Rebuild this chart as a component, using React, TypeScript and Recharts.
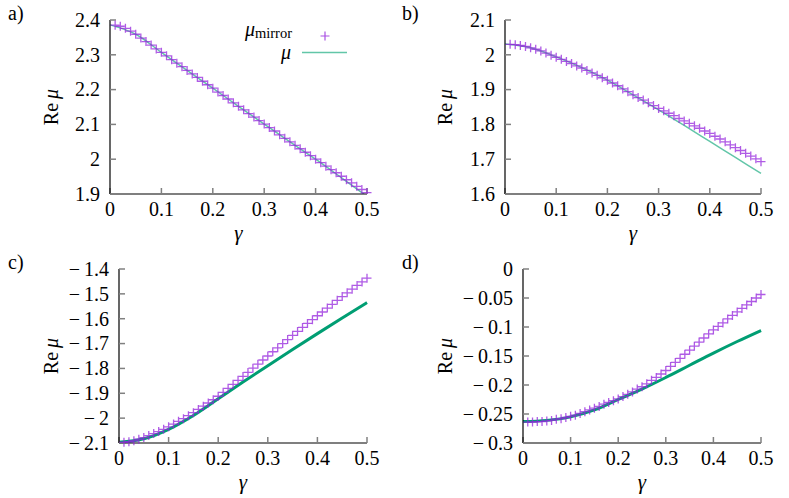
import { ComposedChart, Line, Scatter, XAxis, YAxis, Legend } from "recharts";

// gamma grid of the mirror points and of the mu curve
const gamma = [
  0.01, 0.02, 0.03, 0.04, 0.05, 0.06, 0.07, 0.08, 0.09, 0.1,
  0.11, 0.12, 0.13, 0.14, 0.15, 0.16, 0.17, 0.18, 0.19, 0.2,
  0.21, 0.22, 0.23, 0.24, 0.25, 0.26, 0.27, 0.28, 0.29, 0.3,
  0.31, 0.32, 0.33, 0.34, 0.35, 0.36, 0.37, 0.38, 0.39, 0.4,
  0.41, 0.42, 0.43, 0.44, 0.45, 0.46, 0.47, 0.48, 0.49, 0.5,
];
const gammaLine = [0, 0.05, 0.1, 0.15, 0.2, 0.25, 0.3, 0.35, 0.4, 0.45, 0.5];

// panel a
const mirrorA = [
  2.385, 2.382, 2.376, 2.368, 2.359, 2.348, 2.338, 2.328, 2.317, 2.307,
  2.297, 2.286, 2.276, 2.266, 2.255, 2.245, 2.235, 2.224, 2.214, 2.204,
  2.193, 2.183, 2.173, 2.162, 2.152, 2.142, 2.131, 2.121, 2.111, 2.101,
  2.091, 2.081, 2.07, 2.06, 2.05, 2.04, 2.03, 2.02, 2.01, 2.0,
  1.99, 1.98, 1.97, 1.961, 1.951, 1.941, 1.932, 1.922, 1.913, 1.904,
];
const muA = [2.386, 2.359, 2.307, 2.255, 2.204, 2.152, 2.101, 2.05, 2.0, 1.947, 1.893];

// panel b
const mirrorB = [
  2.03, 2.029, 2.027, 2.024, 2.02, 2.016, 2.011, 2.005, 1.999, 1.993,
  1.987, 1.981, 1.975, 1.968, 1.962, 1.955, 1.948, 1.941, 1.934, 1.927,
  1.919, 1.911, 1.902, 1.894, 1.885, 1.877, 1.87, 1.862, 1.854, 1.846,
  1.839, 1.832, 1.825, 1.817, 1.81, 1.803, 1.796, 1.789, 1.781, 1.774,
  1.766, 1.758, 1.75, 1.741, 1.733, 1.725, 1.717, 1.709, 1.701, 1.693,
];
const muB = [2.031, 2.02, 1.994, 1.963, 1.927, 1.885, 1.842, 1.797, 1.751, 1.705, 1.659];

// panel c
const mirrorC = [
  -2.097, -2.095, -2.091, -2.085, -2.078, -2.07, -2.062, -2.054, -2.045, -2.035,
  -2.024, -2.013, -2.002, -1.99, -1.978, -1.965, -1.952, -1.939, -1.926, -1.912,
  -1.896, -1.88, -1.864, -1.848, -1.832, -1.816, -1.799, -1.783, -1.766, -1.75,
  -1.733, -1.717, -1.7, -1.684, -1.667, -1.651, -1.635, -1.619, -1.604, -1.588,
  -1.573, -1.557, -1.542, -1.526, -1.511, -1.496, -1.481, -1.466, -1.452, -1.437,
];
const muC = [-2.097, -2.083, -2.045, -1.989, -1.922, -1.855, -1.789, -1.724, -1.66, -1.597, -1.535];

// panel d
const mirrorD = [
  -0.264, -0.264, -0.263, -0.263, -0.262, -0.261, -0.259, -0.258, -0.256, -0.254,
  -0.252, -0.249, -0.246, -0.243, -0.24, -0.237, -0.233, -0.23, -0.227, -0.224,
  -0.22, -0.216, -0.212, -0.207, -0.203, -0.198, -0.192, -0.187, -0.181, -0.175,
  -0.168, -0.161, -0.154, -0.147, -0.14, -0.133, -0.126, -0.119, -0.112, -0.105,
  -0.099, -0.093, -0.086, -0.08, -0.074, -0.068, -0.062, -0.056, -0.05, -0.044,
];
const muD = [-0.263, -0.261, -0.255, -0.243, -0.225, -0.207, -0.187, -0.166, -0.145, -0.125, -0.106];

const xTicks = [0, 0.1, 0.2, 0.3, 0.4, 0.5];
const yTicksA = [1.9, 2, 2.1, 2.2, 2.3, 2.4];
const yTicksB = [1.6, 1.7, 1.8, 1.9, 2, 2.1];
const yTicksC = [-2.1, -2, -1.9, -1.8, -1.7, -1.6, -1.5, -1.4];
const yTicksD = [-0.3, -0.25, -0.2, -0.15, -0.1, -0.05, 0];

const FONT = '"Liberation Serif", "Times New Roman", "DejaVu Serif", serif';
const PURPLE = "#9424dc";
const fmt = (v: number) => String(v).replace("-", "\u2212\u2009");
const labelFont = { fontFamily: FONT, fontSize: 20 };

const TickX = (props: any) => (
  <text x={props.x} y={props.y} dy="0.71em" textAnchor="middle" fill="#000" style={labelFont}>
    {fmt(props.payload.value)}
  </text>
);

const TickY = (props: any) => (
  <text x={props.x} y={props.y} dy="0.34em" textAnchor="end" fill="#000" style={labelFont}>
    {fmt(props.payload.value)}
  </text>
);

const Plus = (props: any) => {
  const { cx, cy } = props;
  if (cx == null || cy == null) return null;
  return (
    <path
      d={`M${cx - 4.5},${cy}H${cx + 4.5}M${cx},${cy - 4.5}V${cy + 4.5}`}
      stroke={PURPLE}
      strokeOpacity={0.75}
      strokeWidth={1.3}
      fill="none"
    />
  );
};

const XTitle = (props: any) => {
  const vb = props.viewBox;
  return (
    <text x={vb.x + vb.width / 2} y={vb.y + 46} textAnchor="middle" style={{ ...labelFont, fontSize: 21, fontStyle: "italic" }}>
      γ
    </text>
  );
};

const YTitle = (props: any) => {
  const vb = props.viewBox;
  const cy = vb.y + vb.height / 2;
  return (
    <text x={58} y={cy} transform={`rotate(-90, 58, ${cy})`} textAnchor="middle" style={labelFont}>
      Re{"\u2009"}
      <tspan fontStyle="italic">μ</tspan>
    </text>
  );
};

// legend block of panel a: both rows in one text element, right aligned
const LegendBox = () => (
  <svg width={160} height={56} style={{ display: "block" }}>
    <text textAnchor="end" style={labelFont}>
      <tspan x={92} y={22} fontStyle="italic">μ</tspan>
      <tspan fontSize={14.5} dy={1.5}>mirror</tspan>
      <tspan x={91} y={45} fontStyle="italic">μ</tspan>
    </text>
    <path d="M120.5,22H129.5M125,17.5V26.5" stroke={PURPLE} strokeOpacity={0.8} strokeWidth={1.2} fill="none" />
    <line x1={102} x2={147} y1={38.5} y2={38.5} stroke="#62c6a8" strokeWidth={1.5} />
  </svg>
);

interface PanelProps {
  tag: string;
  left: number;
  top: number;
  plotLeft: number;
  yTicks: number[];
  mirror: number[];
  mu: number[];
  lineColor: string;
  lineWidth: number;
  clip?: boolean;
  legend?: boolean;
}

function Panel({ tag, left, top, plotLeft, yTicks, mirror, mu, lineColor, lineWidth, clip, legend }: PanelProps) {
  const mirrorData = gamma.map((g, i) => ({ g, v: mirror[i] }));
  const lineData = gammaLine.map((g, i) => ({ g, v: mu[i] }));
  const yDomain = [yTicks[0], yTicks[yTicks.length - 1]];
  const border = { stroke: "#000", strokeWidth: 1.2 };
  const tickLine = { stroke: "#808080", strokeWidth: 1.5 };
  return (
    <div style={{ position: "absolute", left, top, width: 394, height: 249 }}>
      <span
        style={{ position: "absolute", left: 8, top: 3, fontFamily: FONT, fontSize: 20, lineHeight: "20px", zIndex: 2 }}
      >
        {tag}
      </span>
      <ComposedChart width={394} height={249} margin={{ top: 20, right: 27, bottom: 25, left: 0 }}>
        <XAxis
          type="number"
          dataKey="g"
          domain={[0, 0.5]}
          ticks={xTicks}
          interval={0}
          height={30}
          tickSize={-6}
          tickMargin={14}
          tick={TickX}
          axisLine={border}
          tickLine={tickLine}
          label={{ content: XTitle }}
        />
        <XAxis
          xAxisId="top"
          orientation="top"
          type="number"
          domain={[0, 0.5]}
          ticks={xTicks}
          interval={0}
          height={0}
          tickSize={-6}
          tick={false}
          axisLine={border}
          tickLine={tickLine}
        />
        <YAxis
          type="number"
          dataKey="v"
          domain={yDomain}
          ticks={yTicks}
          interval={0}
          allowDataOverflow={clip}
          width={plotLeft}
          tickSize={-6}
          tickMargin={16}
          tick={TickY}
          axisLine={border}
          tickLine={tickLine}
          label={{ content: YTitle }}
        />
        <YAxis
          yAxisId="right"
          orientation="right"
          type="number"
          domain={yDomain}
          ticks={yTicks}
          interval={0}
          width={0}
          tickSize={-6}
          tick={false}
          axisLine={border}
          tickLine={tickLine}
        />
        <Scatter data={mirrorData} dataKey="v" shape={Plus} isAnimationActive={false} />
        <Line
          data={lineData}
          dataKey="v"
          type="monotone"
          stroke={lineColor}
          strokeWidth={lineWidth}
          dot={false}
          activeDot={false}
          isAnimationActive={false}
        />
        {legend && (
          <Legend
            layout="vertical"
            align="center"
            verticalAlign="middle"
            wrapperStyle={{ left: 200, top: 14, width: 160, height: 56 }}
            content={LegendBox}
          />
        )}
      </ComposedChart>
    </div>
  );
}

export default function App() {
  return (
    <div style={{ position: "absolute", left: 0, top: 0, width: 789, height: 498, background: "#fff" }}>
      <Panel tag="a)" left={0} top={0} plotLeft={110} yTicks={yTicksA} mirror={mirrorA} mu={muA}
        lineColor="#62c6a8" lineWidth={1.5} clip legend />
      <Panel tag="b)" left={394} top={0} plotLeft={111} yTicks={yTicksB} mirror={mirrorB} mu={muB}
        lineColor="#62c6a8" lineWidth={1.5} />
      <Panel tag="c)" left={0} top={249} plotLeft={119} yTicks={yTicksC} mirror={mirrorC} mu={muC}
        lineColor="#009e73" lineWidth={3} />
      <Panel tag="d)" left={394} top={249} plotLeft={129} yTicks={yTicksD} mirror={mirrorD} mu={muD}
        lineColor="#009e73" lineWidth={3} />
    </div>
  );
}
